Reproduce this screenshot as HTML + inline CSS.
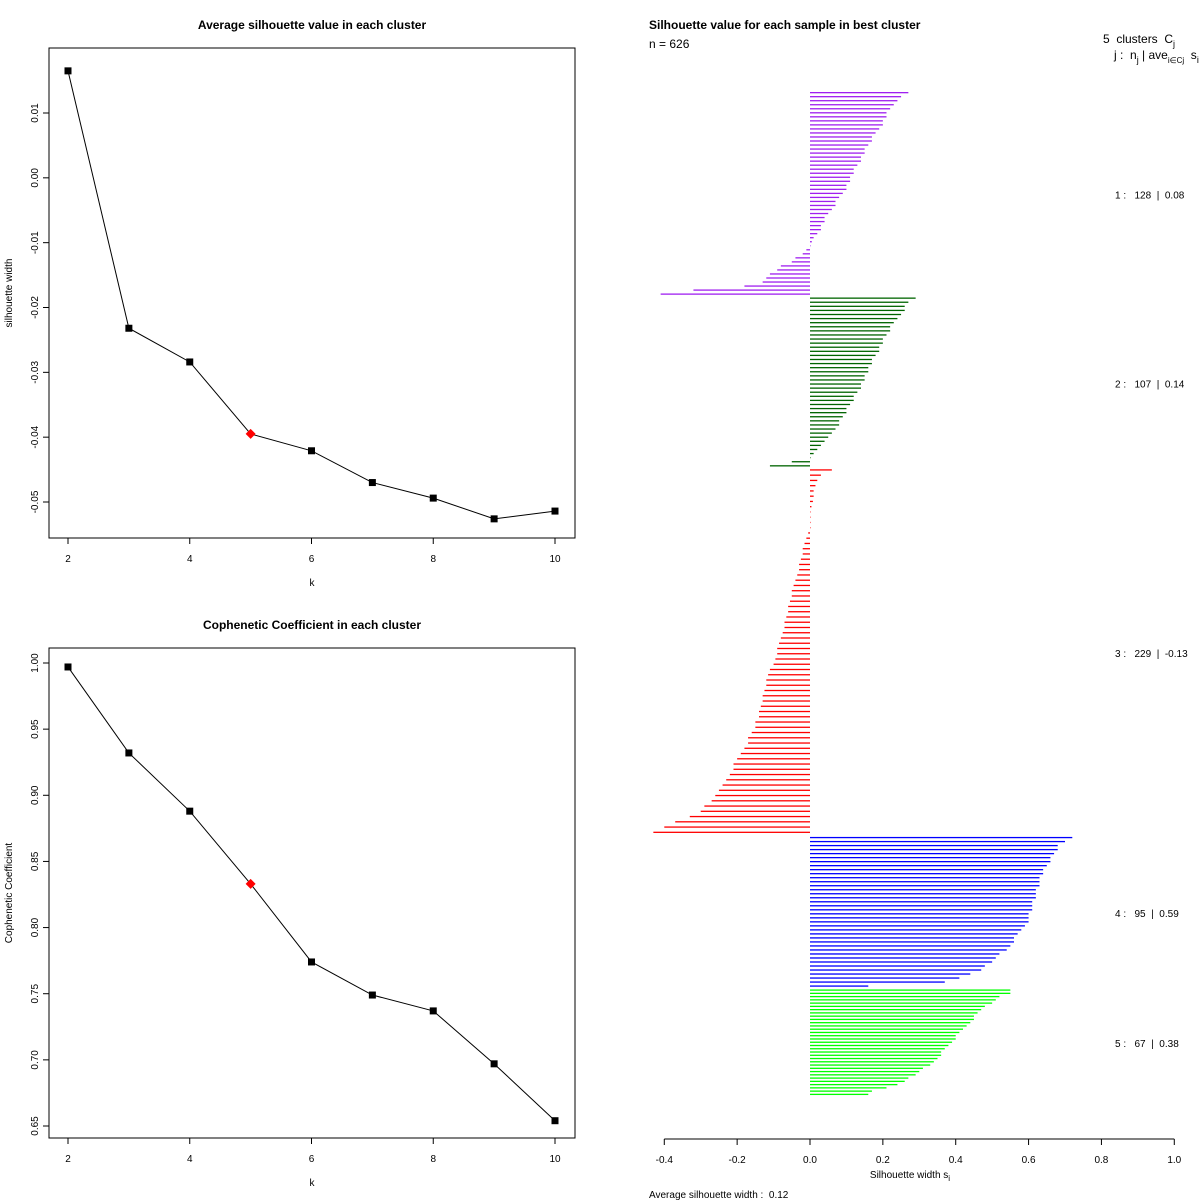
<!DOCTYPE html>
<html><head><meta charset="utf-8"><style>
html,body{margin:0;padding:0;background:#fff;}
svg{display:block;font-family:"Liberation Sans",sans-serif;}
svg text{white-space:pre;}
</style></head><body>
<svg id="c" width="1200" height="1200" viewBox="0 0 1200 1200"></svg>
<script>
const kValues=[2,3,4,5,6,7,8,9,10];
const silValues=[0.0165,-0.0232,-0.0284,-0.0395,-0.0421,-0.0470,-0.0494,-0.0526,-0.0514];
const copheValues=[0.997,0.932,0.888,0.833,0.774,0.749,0.737,0.697,0.654];
const bestK=5;
const silTicks=[0.01,0.00,-0.01,-0.02,-0.03,-0.04,-0.05];
const silTickLabels=["0.01","0.00","-0.01","-0.02","-0.03","-0.04","-0.05"];
const copheTicks=[1.00,0.95,0.90,0.85,0.80,0.75,0.70,0.65];
const copheTickLabels=["1.00","0.95","0.90","0.85","0.80","0.75","0.70","0.65"];
const kTicks=[2,4,6,8,10];
const clusterSizes=[128,107,229,95,67];
const clusterAvg=["0.08","0.14","-0.13","0.59","0.38"];
const clusterColors=["#A020F0","#006400","#FF0000","#0000FF","#00FF00"];
const c1=[0.27,0.25,0.24,0.23,0.22,0.21,0.21,0.20,0.20,0.19,0.18,0.17,0.17,0.16,0.15,0.15,0.14,0.14,0.13,0.12,0.12,0.11,0.11,0.10,0.10,0.09,0.08,0.07,0.07,0.06,0.05,0.04,0.04,0.03,0.03,0.02,0.01,0.005,0,-0.01,-0.02,-0.04,-0.05,-0.08,-0.09,-0.11,-0.12,-0.13,-0.18,-0.32,-0.41];
const c2=[0.29,0.27,0.26,0.26,0.25,0.24,0.23,0.22,0.22,0.21,0.20,0.20,0.19,0.19,0.18,0.17,0.17,0.16,0.16,0.15,0.15,0.14,0.14,0.13,0.12,0.12,0.11,0.10,0.10,0.09,0.08,0.08,0.07,0.06,0.05,0.04,0.03,0.02,0.01,0,-0.05,-0.11];
const c3=[0.06,0.03,0.02,0.015,0.01,0.01,0.008,0.004,0,0,0,0,-0.005,-0.01,-0.015,-0.02,-0.02,-0.025,-0.03,-0.03,-0.035,-0.04,-0.045,-0.05,-0.05,-0.055,-0.06,-0.06,-0.065,-0.07,-0.07,-0.075,-0.08,-0.085,-0.09,-0.09,-0.095,-0.10,-0.11,-0.115,-0.12,-0.12,-0.125,-0.13,-0.13,-0.135,-0.14,-0.14,-0.15,-0.15,-0.16,-0.17,-0.17,-0.18,-0.19,-0.20,-0.21,-0.21,-0.22,-0.23,-0.24,-0.25,-0.26,-0.27,-0.29,-0.30,-0.33,-0.37,-0.40,-0.43];
const c4=[0.72,0.70,0.68,0.68,0.67,0.66,0.66,0.65,0.64,0.64,0.63,0.63,0.63,0.62,0.62,0.62,0.61,0.61,0.61,0.60,0.60,0.60,0.59,0.58,0.57,0.56,0.56,0.55,0.54,0.52,0.51,0.50,0.48,0.47,0.44,0.41,0.37,0.16];
const c5=[0.55,0.55,0.52,0.51,0.50,0.48,0.47,0.46,0.45,0.45,0.44,0.43,0.42,0.41,0.40,0.40,0.39,0.38,0.37,0.36,0.36,0.35,0.34,0.33,0.31,0.30,0.29,0.27,0.26,0.24,0.21,0.17,0.16];
const clusterValues=[c1,c2,c3,c4,c5];
const swTicks=[-0.4,-0.2,0.0,0.2,0.4,0.6,0.8,1.0];
const swTickLabels=["-0.4","-0.2","0.0","0.2","0.4","0.6","0.8","1.0"];

const NS="http://www.w3.org/2000/svg";
const svg=document.getElementById('c');
function mk(tag,attrs,parent){const e=document.createElementNS(NS,tag);for(const k in attrs)e.setAttribute(k,attrs[k]);(parent||svg).appendChild(e);return e;}
function txt(s,attrs,parent){const e=mk('text',attrs,parent);e.textContent=s;return e;}

function linePanel(opts){
  const g=mk('g',{});
  
  
  const L=49,R=575,T=opts.top,B=opts.top+490;
  const xS=k=>68+(k-2)*(555-68)/8;
  const yS=v=>opts.y0px+(v-opts.y0)*(opts.y1px-opts.y0px)/(opts.y1-opts.y0);
  const box=mk('rect',{x:L,y:T,width:R-L,height:B-T,fill:'none',stroke:'#000','stroke-width':1},g);
  
  const t=txt(opts.title,{x:312,y:T-19,'text-anchor':'middle','font-size':12,'font-weight':'bold'},g);
  
  kTicks.forEach(k=>{mk('line',{x1:xS(k),x2:xS(k),y1:B,y2:B+6,stroke:'#000'},g);
    const l=txt(String(k),{x:xS(k),y:B+24,'text-anchor':'middle','font-size':10},g);
    });
  opts.ticks.forEach((v,i)=>{const y=yS(v);mk('line',{x1:L-6,x2:L,y1:y,y2:y,stroke:'#000'},g);
    const l=txt(opts.tickLabels[i],{x:38,y:y,'text-anchor':'middle','font-size':10,transform:`rotate(-90 38 ${y})`},g);
    });
  const xl=txt('k',{x:312,y:B+48,'text-anchor':'middle','font-size':10},g);
  
  const yc=(T+B)/2;
  const yl=txt(opts.ylab,{x:12,y:yc,'text-anchor':'middle','font-size':10,transform:`rotate(-90 12 ${yc})`},g);
  
  const pts=kValues.map((k,i)=>xS(k)+','+yS(opts.values[i])).join(' ');
  const pl=mk('polyline',{points:pts,fill:'none',stroke:'#000','stroke-width':1},g);
  
  kValues.forEach((k,i)=>{const x=xS(k),y=yS(opts.values[i]);let m;
    if(k===bestK){m=mk('polygon',{points:`${x},${y-5} ${x+5},${y} ${x},${y+5} ${x-5},${y}`,fill:'#FF0000'},g);}
    else{m=mk('rect',{x:x-3.5,y:y-3.5,width:7,height:7,fill:'#000'},g);}
    });
}
linePanel({name:'silhouette-panel',title:'Average silhouette value in each cluster',top:48,values:silValues,ticks:silTicks,tickLabels:silTickLabels,y0:0.01,y0px:113,y1:-0.05,y1px:502,ylab:'silhouette width'});
linePanel({name:'cophenetic-panel',title:'Cophenetic Coefficient in each cluster',top:648,values:copheValues,ticks:copheTicks,tickLabels:copheTickLabels,y0:1.0,y0px:663,y1:0.65,y1px:1126,ylab:'Cophenetic Coefficient'});

const sg=mk('g',{});


const sx=v=>810+v*(1173-663)/1.4;
const total=clusterSizes.reduce((a,b)=>a+b,0);
const barTop=92,barBot=1097,per=(barBot-barTop)/total;
const t2=txt('Silhouette value for each sample in best cluster',{x:649,y:29,'font-size':12,'font-weight':'bold'},sg);

const nn=txt('n = '+total,{x:649,y:48,'font-size':12},sg);

const lg1=txt('',{x:1103,y:43,'font-size':12},sg);
lg1.innerHTML='5  clusters  C<tspan font-size="9" dy="4">j</tspan>';

const lg2=txt('',{x:1114,y:59,'font-size':12},sg);
lg2.innerHTML='j :  n<tspan font-size="9" dy="4">j</tspan><tspan dy="-4"> | ave</tspan><tspan font-size="8" dy="4">i∈Cj</tspan><tspan dy="-4">  s</tspan><tspan font-size="9" dy="4">i</tspan>';

let yStart=barTop;
clusterValues.forEach((vals,ci)=>{
  const span=clusterSizes[ci]*per;
  const step=span/vals.length;
  vals.forEach((v,i)=>{
    const y=yStart+i*step;
    const x0=Math.min(sx(0),sx(v)),w=Math.abs(sx(v)-sx(0));
    const r=mk('rect',{x:x0,y:y,width:Math.max(w,0.5),height:1.3,fill:clusterColors[ci]},sg);
    
    
  });
  const lab=txt(`${ci+1} :   ${clusterSizes[ci]}  |  ${clusterAvg[ci]}`,{x:1115,y:yStart+span/2+4,'font-size':10},sg);
  
  
  yStart+=span;
});
mk('line',{x1:sx(-0.4),x2:sx(1.0),y1:1139,y2:1139,stroke:'#000'},sg);
swTicks.forEach((v,i)=>{mk('line',{x1:sx(v),x2:sx(v),y1:1139,y2:1145,stroke:'#000'},sg);
  const l=txt(swTickLabels[i],{x:sx(v),y:1163,'text-anchor':'middle','font-size':10},sg);
  });
const xt=txt('',{x:910,y:1178,'text-anchor':'middle','font-size':10},sg);
xt.innerHTML='Silhouette width s<tspan font-size="8" dy="3">i</tspan>';

const av=txt('Average silhouette width :  0.12',{x:649,y:1198,'font-size':10},sg);

</script>
</body></html>
